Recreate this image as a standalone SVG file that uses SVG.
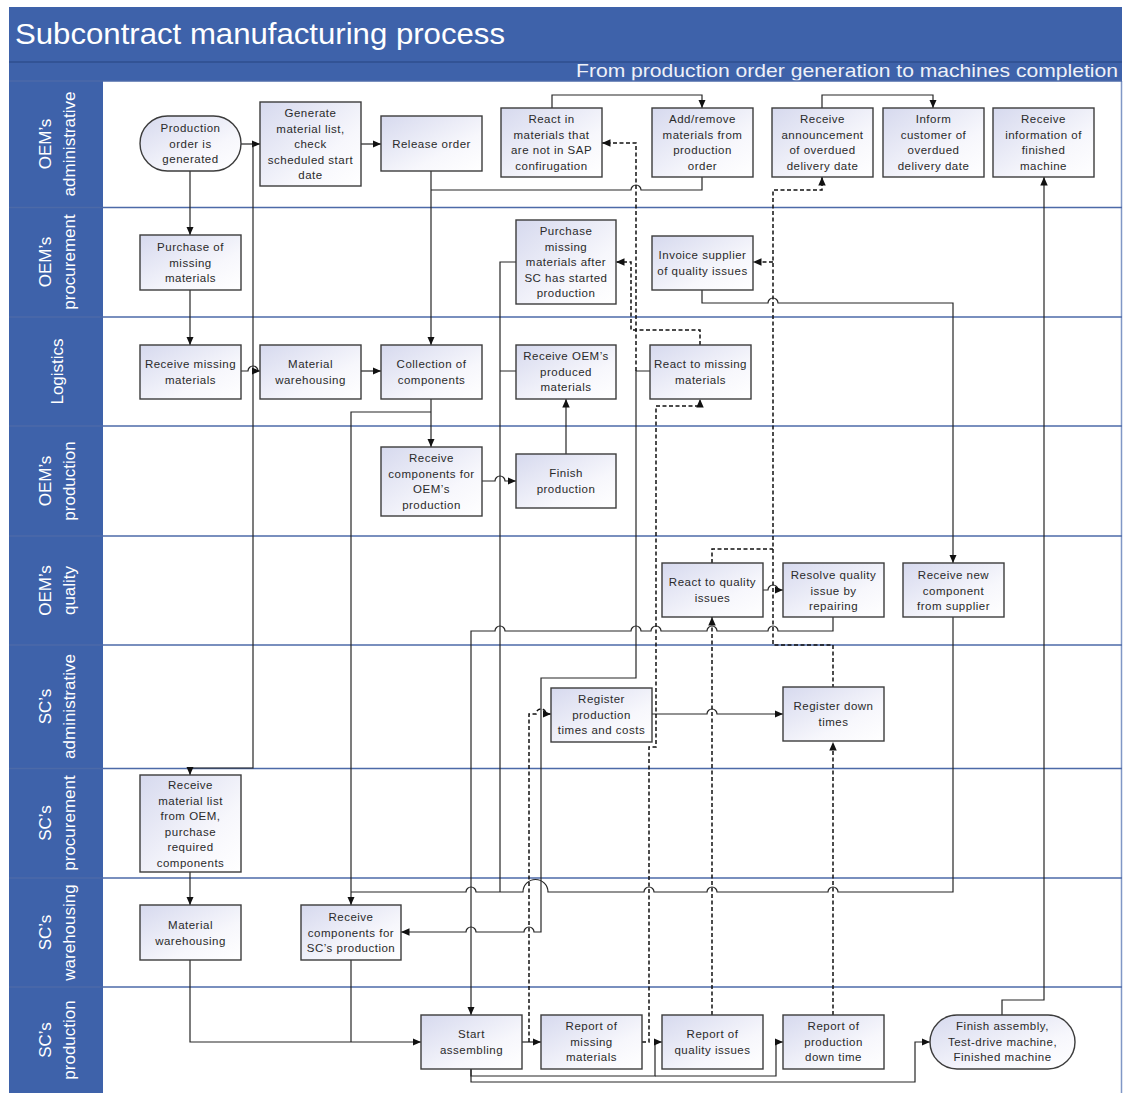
<svg xmlns="http://www.w3.org/2000/svg" width="1124" height="1093" viewBox="0 0 1124 1093">
  <defs>
    <linearGradient id="boxfill" x1="0" y1="0" x2="1" y2="1">
      <stop offset="0" stop-color="#d6d9ee"/>
      <stop offset="0.65" stop-color="#f7f7fc"/>
      <stop offset="1" stop-color="#ffffff"/>
    </linearGradient>
    <marker id="arrow" markerWidth="9" markerHeight="8" refX="8.5" refY="3.75" orient="auto" markerUnits="userSpaceOnUse">
      <path d="M0,0 L8.5,3.75 L0,7.5 z" fill="#111"/>
    </marker>
    <style>
      .band { fill: #3e62aa; }
      .lane-line { stroke: #4c6aa8; stroke-width: 1.3; }
      .box { fill: url(#boxfill); stroke: #3c3c3c; stroke-width: 1.4; }
      .lbl { font-family: "Liberation Sans", Arial, sans-serif; font-size: 11.5px; fill: #2a2a2a; text-anchor: middle; letter-spacing: 0.5px; }
      .hdr { font-family: "Liberation Sans", Arial, sans-serif; font-size: 17px; fill: #ffffff; text-anchor: middle; }
      .ln { fill: none; stroke: #262626; stroke-width: 1.2; }
      .dash { fill: none; stroke: #111; stroke-width: 1.5; stroke-dasharray: 4 2.5; }
      .arr { marker-end: url(#arrow); }
    </style>
  </defs>

  <rect x="0" y="0" width="1124" height="1093" fill="#ffffff"/>

  <!-- Title and subtitle bands -->
  <rect class="band" x="9" y="7" width="1113" height="74"/>
  <line x1="9" y1="62" x2="1122" y2="62" stroke="#2f4f8e" stroke-width="1.5"/>
  <text x="15" y="44" font-family="'Liberation Sans', Arial, sans-serif" font-size="30" fill="#ffffff" textLength="490" lengthAdjust="spacingAndGlyphs">Subcontract manufacturing process</text>
  <text x="1118" y="77" font-family="'Liberation Sans', Arial, sans-serif" font-size="18.5" fill="#eef1f8" text-anchor="end" textLength="542" lengthAdjust="spacingAndGlyphs">From production order generation to machines completion</text>

  <!-- Lane header column -->
  <rect class="band" x="9" y="81" width="94" height="1012"/>
  <line x1="1121.5" y1="81" x2="1121.5" y2="1093" stroke="#8097c6" stroke-width="1.5"/>

  <!-- Lane separators -->
  <g id="lanes">
    <line class="lane-line" x1="9" y1="81" x2="1122" y2="81"/>
    <line class="lane-line" x1="9" y1="207.5" x2="1122" y2="207.5"/>
    <line class="lane-line" x1="9" y1="317" x2="1122" y2="317"/>
    <line class="lane-line" x1="9" y1="426" x2="1122" y2="426"/>
    <line class="lane-line" x1="9" y1="536" x2="1122" y2="536"/>
    <line class="lane-line" x1="9" y1="645" x2="1122" y2="645"/>
    <line class="lane-line" x1="9" y1="768.5" x2="1122" y2="768.5"/>
    <line class="lane-line" x1="9" y1="878" x2="1122" y2="878"/>
    <line class="lane-line" x1="9" y1="987" x2="1122" y2="987"/>
  </g>

  <!-- Lane titles -->
  <g id="lane-titles" class="hdr">
    <text transform="translate(51,144) rotate(-90)">OEM’s</text>
    <text transform="translate(75,144) rotate(-90)">administrative</text>
    <text transform="translate(51,262) rotate(-90)">OEM’s</text>
    <text transform="translate(75,262) rotate(-90)">procurement</text>
    <text transform="translate(63,371.5) rotate(-90)">Logistics</text>
    <text transform="translate(51,481) rotate(-90)">OEM’s</text>
    <text transform="translate(75,481) rotate(-90)">production</text>
    <text transform="translate(51,590.5) rotate(-90)">OEM’s</text>
    <text transform="translate(75,590.5) rotate(-90)">quality</text>
    <text transform="translate(51,706.5) rotate(-90)">SC’s</text>
    <text transform="translate(75,706.5) rotate(-90)">administrative</text>
    <text transform="translate(51,823) rotate(-90)">SC’s</text>
    <text transform="translate(75,823) rotate(-90)">procurement</text>
    <text transform="translate(51,932.5) rotate(-90)">SC’s</text>
    <text transform="translate(75,932.5) rotate(-90)">warehousing</text>
    <text transform="translate(51,1040) rotate(-90)">SC’s</text>
    <text transform="translate(75,1040) rotate(-90)">production</text>
  </g>

  <!-- Connectors -->
  <g id="connectors">
    <!-- solid flows -->
    <path class="ln arr" d="M241,144 H260"/>
    <path class="ln arr" d="M253,144 V768 H190 V775"/>
    <path class="ln arr" d="M361,144 H381"/>
    <path class="ln arr" d="M431,171 V345"/>
    <path class="ln" d="M702,177 V190 H641 a5,5 0 0 0 -10,0 H431"/>
    <path class="ln arr" d="M552,108 V95 H702 V108"/>
    <path class="ln arr" d="M822,108 V95 H933 V108"/>
    <path class="ln arr" d="M190,171 V235"/>
    <path class="ln arr" d="M190,290 V345"/>
    <path class="ln arr" d="M241,371 H248 a5,5 0 0 1 10,0 H260"/>
    <path class="ln arr" d="M361,371 H381"/>
    <path class="ln arr" d="M431,399 V447"/>
    <path class="ln arr" d="M431,412 H351 V905"/>
    <path class="ln arr" d="M482,481 H495 a5,5 0 0 1 10,0 H516"/>
    <path class="ln arr" d="M566,454 V399"/>
    <path class="ln" d="M516,262 H500 V892 M516,371 H500"/>
    <path class="ln" d="M953,617 V892 H838 a5,5 0 0 0 -10,0 H717 a5,5 0 0 0 -10,0 H654 a5,5 0 0 0 -10,0 H548 a12.5,12.5 0 0 0 -25,0 H476 a5,5 0 0 0 -10,0 H351"/>
    <path class="ln arr" d="M702,290 V303 H768 a5,5 0 0 1 10,0 H953 V563"/>
    <path class="ln arr" d="M650,371 H636 V678 H541 V932 H534 a5,5 0 0 0 -10,0 H476 a5,5 0 0 0 -10,0 H401"/>
    <path class="ln arr" d="M522,1042 H541"/>
    <path class="ln arr" d="M471,1069 V1076 H655 V1042 H662"/>
    <path class="ln arr" d="M655,1076 H776 V1042 H783"/>
    <path class="ln arr" d="M471,1069 V1082 H915 V1042 H930"/>
    <path class="ln arr" d="M652,714 H707 a5,5 0 0 1 10,0 H783"/>
    <path class="ln arr" d="M763,590 H768 a5,5 0 0 1 10,0 H783"/>
    <path class="ln arr" d="M833,617 V631 H778 a5,5 0 0 0 -10,0 H717 a5,5 0 0 0 -10,0 H661 a5,5 0 0 0 -10,0 H641 a5,5 0 0 0 -10,0 H505 a5,5 0 0 0 -10,0 H471 V1015"/>
    <path class="ln arr" d="M1002,1015 V1000 H1044 V177"/>
    <path class="ln arr" d="M190,960 V1042 H421"/>
    <path class="ln" d="M351,960 V1042"/>
    <path class="ln arr" d="M190,872 V905"/>

    <!-- dashed information flows -->
    <path class="dash arr" d="M636,371 V143 H602"/>
    <path class="dash arr" d="M700,345 V330 H631 V262 H616"/>
    <path class="dash arr" d="M642,1042 H649 V747 H656 V406 H700 V399"/>
    <path class="dash arr" d="M529,1042 V714 H536 a5,5 0 0 1 10,0 H551"/>
    <path class="dash arr" d="M712,1015 V617"/>
    <path class="dash" d="M712,563 V549 H773"/>
    <path class="dash arr" d="M833,688 V645 H773 V190 H822 V177"/>
    <path class="dash arr" d="M773,262 H753"/>
    <path class="dash arr" d="M833,1015 V742"/>
  </g>

  <!-- OEM's administrative -->
  <g id="production-order">
    <rect class="box" x="140" y="116" width="101" height="55" rx="27.5"/>
    <text class="lbl"><tspan x="190.5" y="132">Production</tspan><tspan x="190.5" y="147.5">order is</tspan><tspan x="190.5" y="163">generated</tspan></text>
  </g>
  <g id="generate-list">
    <rect class="box" x="260" y="102" width="101" height="84"/>
    <text class="lbl"><tspan x="310.5" y="117">Generate</tspan><tspan x="310.5" y="132.5">material list,</tspan><tspan x="310.5" y="148">check</tspan><tspan x="310.5" y="163.5">scheduled start</tspan><tspan x="310.5" y="179">date</tspan></text>
  </g>
  <g id="release-order">
    <rect class="box" x="381" y="116" width="101" height="55"/>
    <text class="lbl"><tspan x="431.5" y="147.5">Release order</tspan></text>
  </g>
  <g id="react-sap">
    <rect class="box" x="501" y="108" width="101" height="69"/>
    <text class="lbl"><tspan x="551.5" y="123">React in</tspan><tspan x="551.5" y="138.5">materials that</tspan><tspan x="551.5" y="154">are not in SAP</tspan><tspan x="551.5" y="169.5">confirugation</tspan></text>
  </g>
  <g id="add-remove">
    <rect class="box" x="652" y="108" width="101" height="69"/>
    <text class="lbl"><tspan x="702.5" y="123">Add/remove</tspan><tspan x="702.5" y="138.5">materials from</tspan><tspan x="702.5" y="154">production</tspan><tspan x="702.5" y="169.5">order</tspan></text>
  </g>
  <g id="receive-announcement">
    <rect class="box" x="772" y="108" width="101" height="69"/>
    <text class="lbl"><tspan x="822.5" y="123">Receive</tspan><tspan x="822.5" y="138.5">announcement</tspan><tspan x="822.5" y="154">of overdued</tspan><tspan x="822.5" y="169.5">delivery date</tspan></text>
  </g>
  <g id="inform-customer">
    <rect class="box" x="883" y="108" width="101" height="69"/>
    <text class="lbl"><tspan x="933.5" y="123">Inform</tspan><tspan x="933.5" y="138.5">customer of</tspan><tspan x="933.5" y="154">overdued</tspan><tspan x="933.5" y="169.5">delivery date</tspan></text>
  </g>
  <g id="receive-finished-info">
    <rect class="box" x="993" y="108" width="101" height="69"/>
    <text class="lbl"><tspan x="1043.5" y="123">Receive</tspan><tspan x="1043.5" y="138.5">information of</tspan><tspan x="1043.5" y="154">finished</tspan><tspan x="1043.5" y="169.5">machine</tspan></text>
  </g>

  <!-- OEM's procurement -->
  <g id="purchase-missing">
    <rect class="box" x="140" y="235" width="101" height="55"/>
    <text class="lbl"><tspan x="190.5" y="251">Purchase of</tspan><tspan x="190.5" y="266.5">missing</tspan><tspan x="190.5" y="282">materials</tspan></text>
  </g>
  <g id="purchase-after-sc">
    <rect class="box" x="516" y="220" width="100" height="84"/>
    <text class="lbl"><tspan x="566" y="235">Purchase</tspan><tspan x="566" y="250.5">missing</tspan><tspan x="566" y="266">materials after</tspan><tspan x="566" y="281.5">SC has started</tspan><tspan x="566" y="297">production</tspan></text>
  </g>
  <g id="invoice-supplier">
    <rect class="box" x="652" y="236" width="101" height="54"/>
    <text class="lbl"><tspan x="702.5" y="259">Invoice supplier</tspan><tspan x="702.5" y="274.5">of quality issues</tspan></text>
  </g>

  <!-- Logistics -->
  <g id="receive-missing">
    <rect class="box" x="140" y="345" width="101" height="54"/>
    <text class="lbl"><tspan x="190.5" y="368">Receive missing</tspan><tspan x="190.5" y="383.5">materials</tspan></text>
  </g>
  <g id="material-warehousing-oem">
    <rect class="box" x="260" y="345" width="101" height="54"/>
    <text class="lbl"><tspan x="310.5" y="368">Material</tspan><tspan x="310.5" y="383.5">warehousing</tspan></text>
  </g>
  <g id="collection">
    <rect class="box" x="381" y="345" width="101" height="54"/>
    <text class="lbl"><tspan x="431.5" y="368">Collection of</tspan><tspan x="431.5" y="383.5">components</tspan></text>
  </g>
  <g id="receive-oem-produced">
    <rect class="box" x="516" y="345" width="100" height="54"/>
    <text class="lbl"><tspan x="566" y="360">Receive OEM’s</tspan><tspan x="566" y="375.5">produced</tspan><tspan x="566" y="391">materials</tspan></text>
  </g>
  <g id="react-missing">
    <rect class="box" x="650" y="345" width="101" height="54"/>
    <text class="lbl"><tspan x="700.5" y="368">React to missing</tspan><tspan x="700.5" y="383.5">materials</tspan></text>
  </g>

  <!-- OEM's production -->
  <g id="receive-components-oem">
    <rect class="box" x="381" y="447" width="101" height="69"/>
    <text class="lbl"><tspan x="431.5" y="462">Receive</tspan><tspan x="431.5" y="477.5">components for</tspan><tspan x="431.5" y="493">OEM’s</tspan><tspan x="431.5" y="508.5">production</tspan></text>
  </g>
  <g id="finish-production">
    <rect class="box" x="516" y="454" width="100" height="54"/>
    <text class="lbl"><tspan x="566" y="477">Finish</tspan><tspan x="566" y="492.5">production</tspan></text>
  </g>

  <!-- OEM's quality -->
  <g id="react-quality">
    <rect class="box" x="662" y="563" width="101" height="54"/>
    <text class="lbl"><tspan x="712.5" y="586">React to quality</tspan><tspan x="712.5" y="601.5">issues</tspan></text>
  </g>
  <g id="resolve-quality">
    <rect class="box" x="783" y="563" width="101" height="54"/>
    <text class="lbl"><tspan x="833.5" y="579">Resolve quality</tspan><tspan x="833.5" y="594.5">issue by</tspan><tspan x="833.5" y="610">repairing</tspan></text>
  </g>
  <g id="receive-new-component">
    <rect class="box" x="903" y="563" width="101" height="54"/>
    <text class="lbl"><tspan x="953.5" y="579">Receive new</tspan><tspan x="953.5" y="594.5">component</tspan><tspan x="953.5" y="610">from supplier</tspan></text>
  </g>

  <!-- SC's administrative -->
  <g id="register-production-times">
    <rect class="box" x="551" y="688" width="101" height="54"/>
    <text class="lbl"><tspan x="601.5" y="703">Register</tspan><tspan x="601.5" y="718.5">production</tspan><tspan x="601.5" y="734">times and costs</tspan></text>
  </g>
  <g id="register-down-times">
    <rect class="box" x="783" y="687" width="101" height="54"/>
    <text class="lbl"><tspan x="833.5" y="710">Register down</tspan><tspan x="833.5" y="725.5">times</tspan></text>
  </g>

  <!-- SC's procurement -->
  <g id="receive-material-list">
    <rect class="box" x="140" y="775" width="101" height="97"/>
    <text class="lbl"><tspan x="190.5" y="789">Receive</tspan><tspan x="190.5" y="804.5">material list</tspan><tspan x="190.5" y="820">from OEM,</tspan><tspan x="190.5" y="835.5">purchase</tspan><tspan x="190.5" y="851">required</tspan><tspan x="190.5" y="866.5">components</tspan></text>
  </g>

  <!-- SC's warehousing -->
  <g id="material-warehousing-sc">
    <rect class="box" x="140" y="905" width="101" height="55"/>
    <text class="lbl"><tspan x="190.5" y="929">Material</tspan><tspan x="190.5" y="944.5">warehousing</tspan></text>
  </g>
  <g id="receive-components-sc">
    <rect class="box" x="301" y="905" width="100" height="55"/>
    <text class="lbl"><tspan x="351" y="921">Receive</tspan><tspan x="351" y="936.5">components for</tspan><tspan x="351" y="952">SC’s production</tspan></text>
  </g>

  <!-- SC's production -->
  <g id="start-assembling">
    <rect class="box" x="421" y="1015" width="101" height="54"/>
    <text class="lbl"><tspan x="471.5" y="1038">Start</tspan><tspan x="471.5" y="1053.5">assembling</tspan></text>
  </g>
  <g id="report-missing">
    <rect class="box" x="541" y="1015" width="101" height="54"/>
    <text class="lbl"><tspan x="591.5" y="1030">Report of</tspan><tspan x="591.5" y="1045.5">missing</tspan><tspan x="591.5" y="1061">materials</tspan></text>
  </g>
  <g id="report-quality">
    <rect class="box" x="662" y="1015" width="101" height="54"/>
    <text class="lbl"><tspan x="712.5" y="1038">Report of</tspan><tspan x="712.5" y="1053.5">quality issues</tspan></text>
  </g>
  <g id="report-down-time">
    <rect class="box" x="783" y="1015" width="101" height="54"/>
    <text class="lbl"><tspan x="833.5" y="1030">Report of</tspan><tspan x="833.5" y="1045.5">production</tspan><tspan x="833.5" y="1061">down time</tspan></text>
  </g>
  <g id="finish-assembly">
    <rect class="box" x="930" y="1015" width="145" height="54" rx="27"/>
    <text class="lbl"><tspan x="1002.5" y="1030">Finish assembly,</tspan><tspan x="1002.5" y="1045.5">Test-drive machine,</tspan><tspan x="1002.5" y="1061">Finished machine</tspan></text>
  </g>
</svg>
